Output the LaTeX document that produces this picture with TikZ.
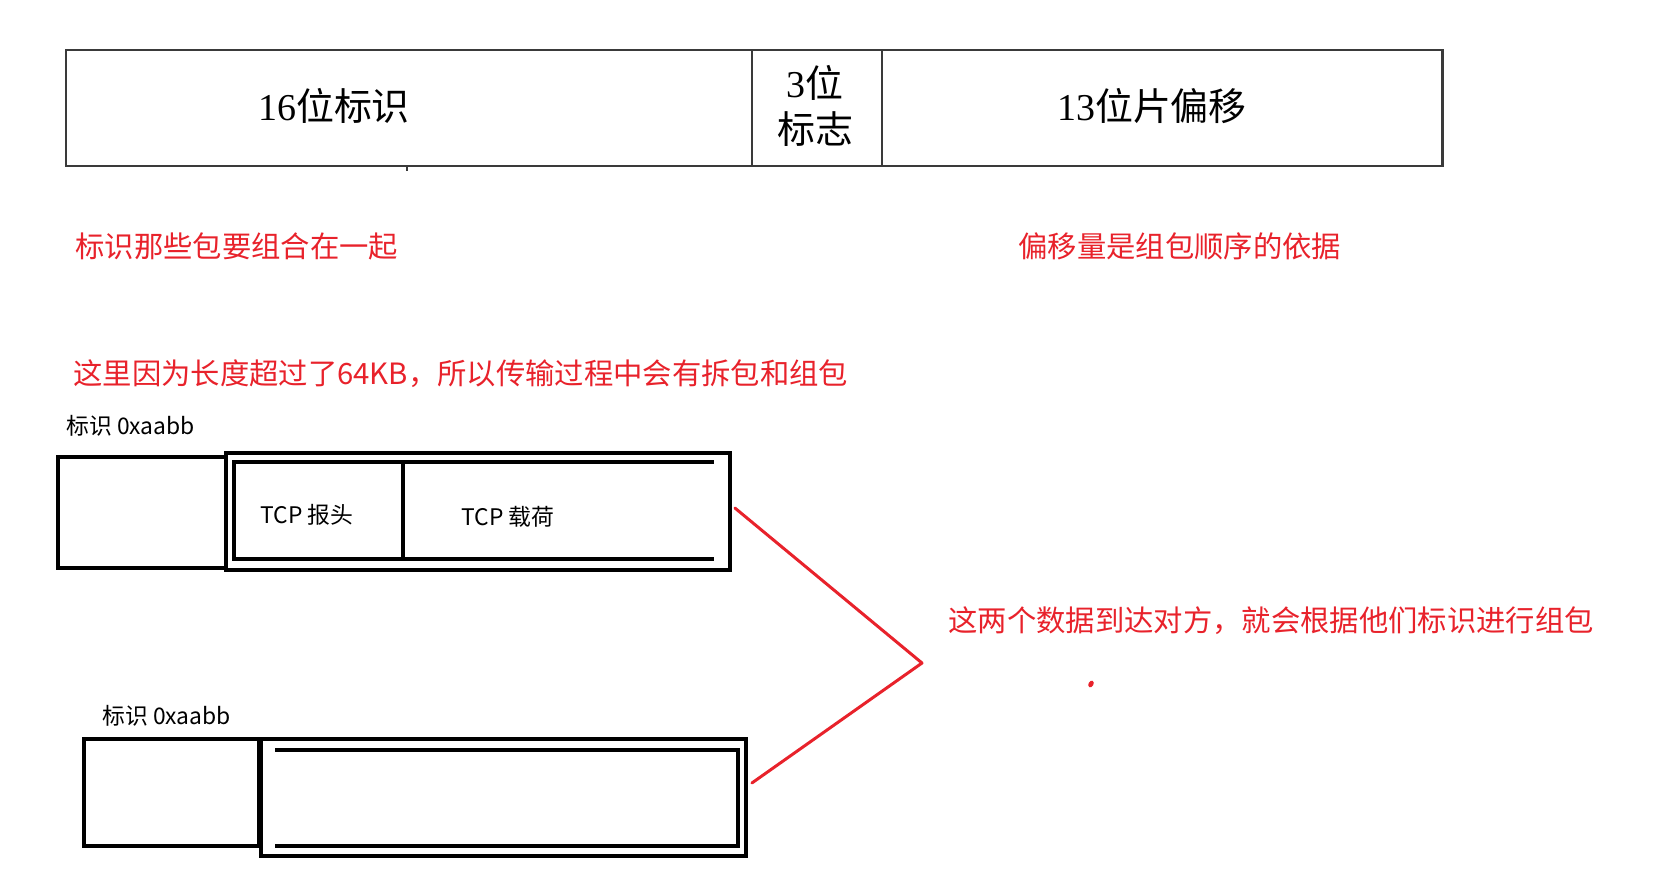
\documentclass[tikz,border=0pt]{standalone}
\usepackage{fontspec}
\setmainfont{Noto Sans CJK SC}
\newfontfamily\serifnum{Liberation Serif}
\usetikzlibrary{positioning}
\definecolor{notered}{HTML}{E8222B}
\definecolor{scan}{HTML}{3A3A3A}
\tikzset{field/.style={draw=scan,line width=1.5pt,minimum height=2.32cm,outer sep=0pt,inner sep=0pt},
pkt/.style={draw,line width=2.2pt,outer sep=0pt,inner sep=0pt},
note/.style={text=notered,font=\fontsize{16.7}{20}\selectfont,anchor=west,inner sep=0pt},
tag/.style={font=\fontsize{13}{15}\selectfont,anchor=west,inner sep=0pt},
head/.style={font=\fontsize{21.6}{26}\selectfont,inner sep=0pt},
redline/.style={draw=notered,line width=1.7pt,line join=round,line cap=round}}

\begin{document}
\begin{tikzpicture}[x=0.02cm,y=-0.02cm]
\useasboundingbox (0,0) rectangle (1680,894);
% header fields
\node[field,minimum width=13.72cm,anchor=north west] (f16) at (66,50) {};
\node[field,minimum width=2.6cm,right=0pt of f16] (f3) {};
\node[field,minimum width=11.22cm,right=0pt of f3] (f13) {};
\draw[scan,line width=1.2pt] (f16.south west) ++(341,0) -- ++(0,5);
\node[head] (t16) at (334,106) {{\serifnum 16}位标识};
\node[head,align=center] (t3) at (815,106) {{\serifnum 3}位\\标志};
\node[head] (t13) at (1152,106) {{\serifnum 13}位片偏移};
% notes
\node[note] (n1) at (75,246) {标识那些包要组合在一起};
\node[note] (n2) at (1018,246) {偏移量是组包顺序的依据};
\node[note] (n3) at (73,374) {这里因为长度超过了64KB，所以传输过程中会有拆包和组包};
\node[note] (n4) at (948,621) {这两个数据到达对方，就会根据他们标识进行组包};
% first packet
\node[tag] (id1) at (66,426) {标识 0xaabb};
\node[pkt,minimum width=3.36cm,minimum height=2.22cm,anchor=north west] (p1id) at (58,457) {};
\node[pkt,minimum width=10.08cm,minimum height=2.34cm,anchor=north west] (p1body) at (226,453) {};
\node[pkt,line width=2.6pt,minimum width=3.38cm,minimum height=1.94cm,anchor=north west] (p1hd) at (234,462) {};
\draw[line width=2.2pt] (p1hd.north east) -- ++(311,0);
\draw[line width=2.2pt] (p1hd.south east) -- ++(311,0);
\node[font=\fontsize{13}{15}\selectfont] (p1ht) at (307,515) {TCP 报头};
\node[font=\fontsize{13}{15}\selectfont] (p1pl) at (508,517) {TCP 载荷};
% second packet
\node[tag] (id2) at (102,716) {标识 0xaabb};
\node[pkt,minimum width=3.5cm,minimum height=2.14cm,anchor=north west] (p2id) at (84,739) {};
\node[pkt,minimum width=9.7cm,minimum height=2.34cm,anchor=north west] (p2body) at (261,739) {};
\draw[line width=2.2pt] ([shift={(14,11)}]p2body.north west) -- ([shift={(-8,11)}]p2body.north east) -- ([shift={(-8,-10)}]p2body.south east) -- ([shift={(14,-10)}]p2body.south west);
% red bracket
\coordinate (tip) at (922,663);
\draw[redline] ([shift={(5,-3.5)}]p1body.east) -- (tip) -- ([shift={(6,-14.5)}]p2body.east);
\fill[notered,rotate around={-30:(1091,684)}] (1091,684) ellipse [x radius=0.05cm,y radius=0.07cm];
\end{tikzpicture}
\end{document}
